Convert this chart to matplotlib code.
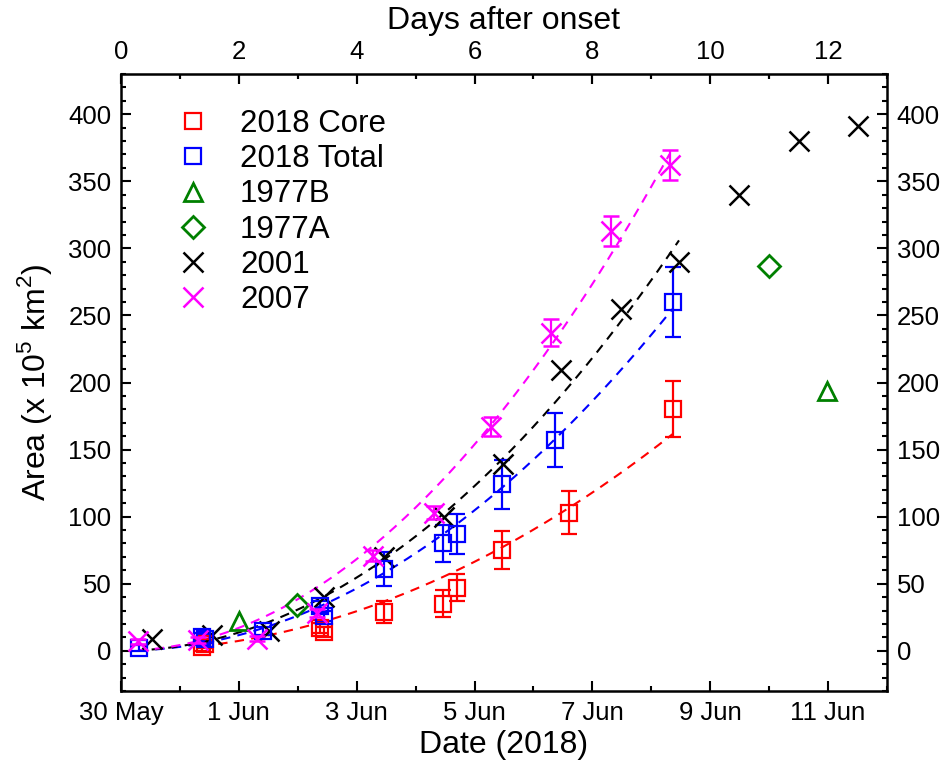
import numpy as np
import matplotlib
matplotlib.use("Agg")
import matplotlib.pyplot as plt
from matplotlib.lines import Line2D
from matplotlib.ticker import MultipleLocator, FixedLocator, FixedFormatter

plt.rcParams['font.family'] = ['Liberation Sans', 'DejaVu Sans']
plt.rcParams['mathtext.fontset'] = 'custom'
plt.rcParams['mathtext.rm'] = 'Liberation Sans'

# Days after onset (day 0 = 30 May 2018, 00 UT), areas in 1e5 km^2
core_t = [1.37, 1.43, 3.37, 3.45, 4.47, 5.46, 5.71, 6.47, 7.61, 9.36]
core_a = [3, 5, 17, 14, 29, 35, 47, 75, 103, 180]
core_err = [3, 3, 4, 4, 8, 10, 10, 14, 16, 21]

total_t = [0.30, 1.37, 1.43, 2.41, 3.37, 3.45, 4.47, 5.46, 5.71, 6.47, 7.37, 9.36]
total_a = [2, 10, 9, 15, 33, 26, 61, 80, 87, 124, 157, 260]
total_err = [2, 3, 3, 3, 4, 4, 13, 14, 15, 18, 20, 26]

b1977_t = [2.00, 11.98]
b1977_a = [22, 194]

a1977_t = [2.98, 10.99]
a1977_a = [34, 287]

y2001_t = [0.52, 1.54, 2.52, 3.45, 4.47, 5.49, 6.48, 7.47, 8.49, 9.47, 10.49, 11.50, 12.50]
y2001_a = [9, 12, 15, 40, 70, 100, 139, 209, 255, 290, 340, 380, 391]
y2001_fit_end = 9.5   # 2001 growth fitted over the first ten days only

y2007_t = [0.29, 1.30, 2.30, 3.32, 4.27, 5.32, 6.28, 7.30, 8.32, 9.31]
y2007_a = [7, 8, 9, 28, 71, 103, 167, 237, 313, 362]
y2007_err = [2, 2, 2, 3, 4, 5, 7, 10, 11, 11]

day_ticks = [0, 2, 4, 6, 8, 10, 12]
date_labels = ['30 May', '1 Jun', '3 Jun', '5 Jun', '7 Jun', '9 Jun', '11 Jun']

RED, BLUE, GREEN, MAG = '#ff0000', '#0000ff', '#008000', '#ff00ff'

fig = plt.figure(figsize=(9.49, 7.65), dpi=100)
ax = fig.add_axes([121 / 949, 1 - 691 / 765, (887 - 121) / 949, (691 - 74) / 765])


def fit_curve(t, a, color, t_max=None):
    """Least-squares fit of A = k t^2 (constant expansion speed)."""
    t = np.asarray(t, float)
    a = np.asarray(a, float)
    if t_max is not None:
        keep = t <= t_max
        t, a = t[keep], a[keep]
    k = np.sum(a * t**2) / np.sum(t**4)
    tt = np.linspace(t.min(), t.max(), 200)
    ax.plot(tt, k * tt**2, color=color, lw=1.5, dashes=(4.5, 3.5), zorder=2)


fit_curve(core_t, core_a, RED)
fit_curve(total_t, total_a, BLUE)
fit_curve(y2001_t, y2001_a, 'black', t_max=y2001_fit_end)
fit_curve(y2007_t, y2007_a, MAG)

sq = dict(marker='s', ms=11, mew=1.6, mfc='none', ls='none',
          elinewidth=1.6, capsize=6, capthick=1.6, zorder=3)
ax.errorbar(core_t, core_a, yerr=core_err, color=RED, mec=RED, **sq)
ax.errorbar(total_t, total_a, yerr=total_err, color=BLUE, mec=BLUE, **sq)
ax.plot(b1977_t, b1977_a, ls='none', marker='^', ms=13, mew=2,
        mfc='none', mec=GREEN, zorder=3)
ax.plot(a1977_t, a1977_a, ls='none', marker='D', ms=11, mew=2,
        mfc='none', mec=GREEN, zorder=3)
ax.plot(y2001_t, y2001_a, ls='none', marker='x', ms=14, mew=1.8,
        color='black', zorder=3)
ax.errorbar(y2007_t, y2007_a, yerr=y2007_err, ls='none', marker='x', ms=14,
            mew=1.8, color=MAG, elinewidth=1.6, capsize=6, capthick=1.6,
            zorder=4)

ax.set_xlim(0, 13)
ax.set_ylim(-30, 430)

fs_tick = 18.5
fs_lab = 23

ax.xaxis.set_major_locator(FixedLocator(day_ticks))
ax.xaxis.set_major_formatter(FixedFormatter(date_labels))
ax.xaxis.set_minor_locator(MultipleLocator(1))
ax.set_yticks([0, 50, 100, 150, 200, 250, 300, 350, 400])
ax.yaxis.set_minor_locator(MultipleLocator(10))

ax.tick_params(which='both', direction='in', width=1.5, labelsize=fs_tick,
               left=True, right=True, top=True, bottom=True,
               labelright=True)
ax.tick_params(which='major', length=7, pad=7)
ax.tick_params(which='minor', length=3.5)
for sp in ax.spines.values():
    sp.set_linewidth(1.8)

top = ax.secondary_xaxis('top')
top.xaxis.set_major_locator(FixedLocator(day_ticks))
top.xaxis.set_minor_locator(MultipleLocator(1))
top.tick_params(which='both', direction='in', width=1.5, labelsize=fs_tick)
top.tick_params(which='major', length=7, pad=7)
top.tick_params(which='minor', length=3.5)
top.set_xlabel('Days after onset', fontsize=fs_lab, labelpad=8)

ax.set_xlabel('Date (2018)', fontsize=fs_lab, labelpad=4)
ax.set_ylabel(r'Area (x 10$^5$ km$^2$)', fontsize=fs_lab, labelpad=10)

# Marker-only legend entries
handles = [
    Line2D([], [], ls='none', marker='s', ms=11, mew=1.6, mfc='none', mec=RED),
    Line2D([], [], ls='none', marker='s', ms=11, mew=1.6, mfc='none', mec=BLUE),
    Line2D([], [], ls='none', marker='^', ms=13, mew=2, mfc='none', mec=GREEN),
    Line2D([], [], ls='none', marker='D', ms=11, mew=2, mfc='none', mec=GREEN),
    Line2D([], [], ls='none', marker='x', ms=14, mew=1.8, color='black'),
    Line2D([], [], ls='none', marker='x', ms=14, mew=1.8, color=MAG),
]
labels = ['2018 Core', '2018 Total', '1977B', '1977A', '2001', '2007']
ax.legend(handles, labels, loc='upper left', bbox_to_anchor=(0.0736, 0.9435),
          frameon=False, fontsize=22.5, handlelength=1.0, borderpad=0,
          handletextpad=1.0, labelspacing=0.17, borderaxespad=0)

fig.savefig('out.png', dpi=100)
